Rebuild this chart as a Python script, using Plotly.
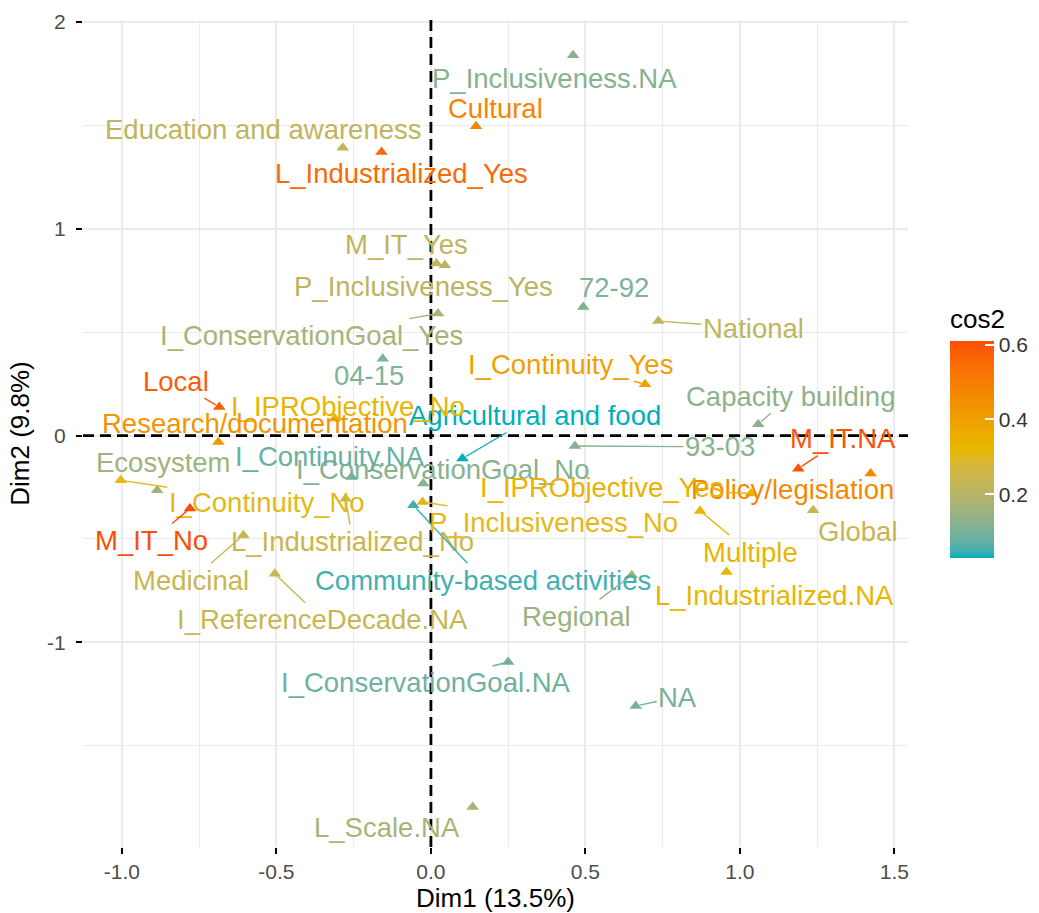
import numpy as np
import plotly.graph_objects as go

# ---- MCA variable categories: coordinates on Dim1 / Dim2 and quality (cos2) ----
categories = [
    "P_Inclusiveness.NA", "Cultural", "Education and awareness", "L_Industrialized_Yes",
    "M_IT_Yes", "P_Inclusiveness_Yes", "I_ConservationGoal_Yes", "04-15", "72-92",
    "National", "I_Continuity_Yes", "Capacity building", "M_IT.NA", "Policy/legislation",
    "Global", "Multiple", "93-03", "Agricultural and food", "I_ConservationGoal_No",
    "I_Continuity.NA", "I_IPRObjective_No", "Local", "Research/documentation", "Ecosystem",
    "I_Continuity_No", "M_IT_No", "Medicinal", "L_Industrialized_No", "I_ReferenceDecade.NA",
    "Community-based activities", "P_Inclusiveness_No", "I_IPRObjective_Yes",
    "L_Industrialized.NA", "Regional", "I_ConservationGoal.NA", "NA", "L_Scale.NA",
]
dim1 = [
    0.460, 0.146, -0.285, -0.160,
    0.018, 0.045, 0.023, -0.156, 0.493,
    0.736, 0.693, 1.059, 1.189, 1.423,
    1.237, 0.871, 0.466, 0.102, -0.025,
    -0.257, -0.311, -0.685, -0.688, -0.886,
    -1.004, -0.780, -0.607, -0.276, -0.505,
    -0.057, -0.027, 1.036,
    0.957, 0.650, 0.250, 0.663, 0.135,
]
dim2 = [
    1.840, 1.496, 1.392, 1.372,
    0.832, 0.824, 0.590, 0.372, 0.622,
    0.554, 0.248, 0.055, -0.160, -0.184,
    -0.361, -0.365, -0.050, -0.111, -0.232,
    -0.200, 0.082, 0.138, -0.031, -0.265,
    -0.216, -0.353, -0.482, -0.305, -0.668,
    -0.337, -0.321, -0.280,
    -0.660, -0.676, -1.095, -1.308, -1.797,
]
cos2 = [
    0.12, 0.48, 0.22, 0.55,
    0.22, 0.21, 0.17, 0.11, 0.11,
    0.22, 0.40, 0.13, 0.60, 0.47,
    0.24, 0.33, 0.12, 0.03, 0.12,
    0.08, 0.33, 0.58, 0.43, 0.16,
    0.31, 0.61, 0.24, 0.25, 0.24,
    0.05, 0.31, 0.34,
    0.33, 0.15, 0.09, 0.10, 0.17,
]

x_ticks = [-1.0, -0.5, 0.0, 0.5, 1.0, 1.5]
x_ticktext = ["-1.0", "-0.5", "0.0", "0.5", "1.0", "1.5"]
y_ticks = [-1, 0, 1, 2]
y_ticktext = ["-1", "0", "1", "2"]
cb_ticks = [0.2, 0.4, 0.6]
cb_ticktext = ["0.2", "0.4", "0.6"]

# ---- repelled label placement: pixel offset of each label from its point,
#      and whether a connecting segment is drawn ----
label_layout = {
    "P_Inclusiveness.NA": (-19, 23, False),
    "Cultural": (19, -18, False),
    "Education and awareness": (-80, -18, True),
    "L_Industrialized_Yes": (20, 22, False),
    "M_IT_Yes": (-30, -19, False),
    "P_Inclusiveness_Yes": (-21, 21, False),
    "I_ConservationGoal_Yes": (-127, 22, True),
    "04-15": (-14, 17, False),
    "72-92": (31, -19, False),
    "National": (95, 7, True),
    "I_Continuity_Yes": (-75, -20, True),
    "Capacity building": (32, -28, True),
    "M_IT.NA": (45, -30, True),
    "Policy/legislation": (-78, 16, False),
    "Global": (45, 21, False),
    "Multiple": (50, 41, True),
    "93-03": (145, 1, True),
    "Agricultural and food": (73, -43, True),
    "I_ConservationGoal_No": (20, -14, False),
    "I_Continuity.NA": (-22, -20, False),
    "I_IPRObjective_No": (13, -12, False),
    "Local": (-43, -26, True),
    "Research/documentation": (37, -18, False),
    "Ecosystem": (6, -28, False),
    "I_Continuity_No": (146, 22, True),
    "M_IT_No": (-38, 32, True),
    "Medicinal": (-52, 45, True),
    "L_Industrialized_No": (7, 43, True),
    "I_ReferenceDecade.NA": (48, 46, True),
    "Community-based activities": (70, 75, True),
    "P_Inclusiveness_No": (131, 21, True),
    "I_IPRObjective_Yes": (-149, -6, True),
    "L_Industrialized.NA": (48, 23, False),
    "Regional": (-55, 41, True),
    "I_ConservationGoal.NA": (-82, 21, True),
    "NA": (42, -9, True),
    "L_Scale.NA": (-86, 20, False),
}

# ---- gradient teal -> gold -> orange-red, interpolated in CIE Lab ----
GRAD = ["#00AFBB", "#E7B800", "#FC4E07"]


def _hex_to_rgb(h):
    h = h.lstrip("#")
    return np.array([int(h[i:i + 2], 16) for i in (0, 2, 4)], dtype=float) / 255.0


def _srgb_to_lin(c):
    return np.where(c <= 0.04045, c / 12.92, ((c + 0.055) / 1.055) ** 2.4)


def _lin_to_srgb(c):
    c = np.clip(c, 0, 1)
    return np.where(c <= 0.0031308, 12.92 * c, 1.055 * c ** (1 / 2.4) - 0.055)


M_RGB2XYZ = np.array([[0.4124564, 0.3575761, 0.1804375],
                      [0.2126729, 0.7151522, 0.0721750],
                      [0.0193339, 0.1191920, 0.9503041]])
M_XYZ2RGB = np.linalg.inv(M_RGB2XYZ)
WHITE = np.array([0.95047, 1.0, 1.08883])


def _f(t):
    d = 6 / 29
    return np.where(t > d ** 3, np.cbrt(t), t / (3 * d * d) + 4 / 29)


def _finv(t):
    d = 6 / 29
    return np.where(t > d, t ** 3, 3 * d * d * (t - 4 / 29))


def hex_to_lab(h):
    xyz = M_RGB2XYZ @ _srgb_to_lin(_hex_to_rgb(h)) / WHITE
    fx, fy, fz = _f(xyz)
    return np.array([116 * fy - 16, 500 * (fx - fy), 200 * (fy - fz)])


def lab_to_hex(lab):
    L, a, b = lab
    fy = (L + 16) / 116
    fx = fy + a / 500
    fz = fy - b / 200
    xyz = _finv(np.array([fx, fy, fz])) * WHITE
    rgb = _lin_to_srgb(M_XYZ2RGB @ xyz)
    r, g, b_ = (np.round(rgb * 255)).astype(int)
    return "#{:02X}{:02X}{:02X}".format(r, g, b_)


LABS = [hex_to_lab(c) for c in GRAD]


def grad_color(t):
    t = float(np.clip(t, 0, 1))
    seg = min(int(t * 2), 1)
    u = t * 2 - seg
    return lab_to_hex(LABS[seg] * (1 - u) + LABS[seg + 1] * u)


colorscale = [[s, grad_color(s)] for s in np.linspace(0, 1, 41)]
cmin, cmax = min(cos2), max(cos2)


def value_color(v):
    return grad_color((v - cmin) / (cmax - cmin))


# ---- figure ----
X_RANGE = [-1.126, 1.544]
Y_RANGE = [-1.99, 2.01]
FONT = "Liberation Sans, Arial, Helvetica, sans-serif"
DASH = dict(color="black", width=2.8, dash="11px,6px")

fig = go.Figure()

# dashed reference lines through the origin (drawn beneath the points)
fig.add_trace(go.Scatter(x=[0, 0], y=Y_RANGE, mode="lines", line=DASH,
                         hoverinfo="skip", showlegend=False))
fig.add_trace(go.Scatter(x=X_RANGE, y=[0, 0], mode="lines", line=DASH,
                         hoverinfo="skip", showlegend=False))

fig.add_trace(go.Scatter(
    x=dim1, y=dim2, mode="markers",
    marker=dict(
        symbol="triangle-up", size=11, color=cos2, colorscale=colorscale,
        cmin=cmin, cmax=cmax, line=dict(width=0),
        colorbar=dict(
            title=dict(text="cos2", side="top", font=dict(size=26, color="black", family=FONT)),
            thickness=44, thicknessmode="pixels",
            len=252, lenmode="pixels",
            x=1.051, xanchor="left", y=0.502, yanchor="middle",
            xpad=0, ypad=0, outlinewidth=0,
            tickmode="array", tickvals=cb_ticks, ticktext=cb_ticktext,
            ticks="inside", ticklen=9, tickwidth=1.5, tickcolor="white",
            tickfont=dict(size=21, color="#333333", family=FONT),
        ),
    ),
    text=categories, hoverinfo="text+x+y", showlegend=False,
))

# labels
for name, xv, yv, cv in zip(categories, dim1, dim2, cos2):
    dx, dy, seg = label_layout[name]
    col = value_color(cv)
    common = dict(x=xv, y=yv, xref="x", yref="y", text=name,
                  font=dict(size=27.5, color=col, family=FONT))
    if seg:
        fig.add_annotation(**common, showarrow=True, ax=dx, ay=dy,
                           arrowhead=0, arrowwidth=1.4, arrowcolor=col,
                           standoff=4, startstandoff=0)
    else:
        fig.add_annotation(**common, showarrow=False, xshift=dx, yshift=-dy)

axis_common = dict(
    showgrid=True, gridcolor="#EBEBEB", gridwidth=2,
    zeroline=False, showline=False,
    ticks="outside", ticklen=6, tickwidth=2, tickcolor="black",
    tickfont=dict(size=21, color="#4D4D4D", family=FONT),
    tickmode="array",
)

fig.update_layout(
    width=1039, height=913,
    margin=dict(l=83, r=131, t=20, b=66, autoexpand=False),
    paper_bgcolor="white", plot_bgcolor="white",
    font=dict(family=FONT),
    xaxis=dict(
        **axis_common, range=X_RANGE, tickvals=x_ticks, ticktext=x_ticktext,
        minor=dict(tickmode="array", tickvals=[-0.75, -0.25, 0.25, 0.75, 1.25],
                   showgrid=True, gridcolor="#EBEBEB", gridwidth=1.3, ticks=""),
        title=dict(text="Dim1 (13.5%)", font=dict(size=26, color="black", family=FONT), standoff=6),
    ),
    yaxis=dict(
        **axis_common, range=Y_RANGE, tickvals=y_ticks, ticktext=y_ticktext,
        minor=dict(tickmode="array", tickvals=[-1.5, -0.5, 0.5, 1.5],
                   showgrid=True, gridcolor="#EBEBEB", gridwidth=1.3, ticks=""),
        ticklabelstandoff=6,
        title=dict(text="Dim2 (9.8%)", font=dict(size=26, color="black", family=FONT), standoff=10),
    ),
)

fig.write_html("out.html")
